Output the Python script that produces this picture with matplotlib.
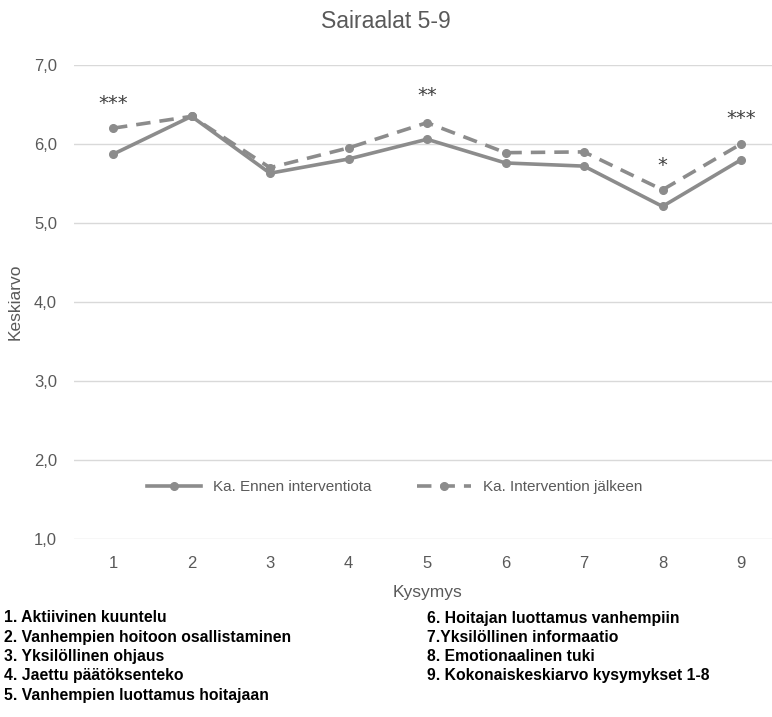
import matplotlib.pyplot as plt

plt.rcParams['font.family'] = ['Liberation Sans', 'DejaVu Sans']

questions = [1, 2, 3, 4, 5, 6, 7, 8, 9]
before = [5.87, 6.35, 5.63, 5.81, 6.06, 5.76, 5.72, 5.21, 5.80]
after = [6.20, 6.35, 5.70, 5.95, 6.27, 5.89, 5.90, 5.42, 6.00]
stars = {1: '***', 5: '**', 8: '*', 9: '***'}
star_y = {1: 6.51, 5: 6.61, 8: 5.73, 9: 6.32}
y_ticks = [1, 2, 3, 4, 5, 6, 7]
notes_left = ['1. Aktiivinen kuuntelu',
              '2. Vanhempien hoitoon osallistaminen',
              '3. Yksilöllinen ohjaus',
              '4. Jaettu päätöksenteko',
              '5. Vanhempien luottamus hoitajaan']
notes_right = ['6. Hoitajan luottamus vanhempiin',
               '7.Yksilöllinen informaatio',
               '8. Emotionaalinen tuki',
               '9. Kokonaiskeskiarvo kysymykset 1-8']

grey = '#8c8c8c'
text_grey = '#595959'

fig = plt.figure(figsize=(7.72, 7.17), dpi=100)
W, H = 772, 717
ax = fig.add_axes([73.75 / W, 1 - 539 / H, 706.5 / W, 474 / H])

ax.plot(questions, before, color=grey, lw=2.6, marker='o', ms=5.5,
        label='Ka. Ennen interventiota', zorder=3)
ax.plot(questions, after, color=grey, lw=2.6, ls=(0, (4, 2.5)), marker='o', ms=5.5,
        label='Ka. Intervention jälkeen', zorder=3)

for q, s in stars.items():
    ax.text(q, star_y[q], s, ha='center', va='center', fontsize=14,
            color='#404040', family='DejaVu Sans')

ax.set_xlim(0.5, 9.5)
ax.set_ylim(1, 7)
ax.set_yticks(y_ticks)
ax.set_yticklabels(['%d,0' % v for v in y_ticks])
ax.set_xticks(questions)
ax.grid(axis='y', color='#d9d9d9', lw=1)
ax.set_axisbelow(True)
for sp in ax.spines.values():
    sp.set_visible(False)
ax.tick_params(length=0, labelsize=12, colors=text_grey)
ax.tick_params(axis='x', pad=12)
ax.tick_params(axis='y', pad=12)

ax.set_ylabel('Keskiarvo', fontsize=12.5, color=text_grey, labelpad=8)
ax.set_xlabel('Kysymys', fontsize=12.5, color=text_grey, labelpad=10)
fig.text(386 / W, 1 - 22 / H, 'Sairaalat 5-9', ha='center', va='center',
         fontsize=16.5, color=text_grey)

leg = ax.legend(loc='center', bbox_to_anchor=((395 - 73.75) / 706.5, (539 - 487) / 474),
                ncol=2, frameon=False, fontsize=11, handlelength=3.5, columnspacing=3)
for t in leg.get_texts():
    t.set_color(text_grey)

for i, s in enumerate(notes_left):
    fig.text(4 / W, 1 - (618 + 19.3 * i) / H, s, ha='left', va='center',
             fontsize=11.3, fontweight='bold')
for i, s in enumerate(notes_right):
    fig.text(427 / W, 1 - (618 + 19.3 * i) / H, s, ha='left', va='center',
             fontsize=11.3, fontweight='bold')

fig.savefig('out.png', dpi=100)
